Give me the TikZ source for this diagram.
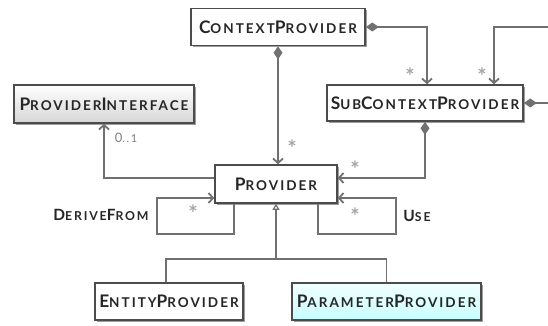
\documentclass[tikz,border=0pt]{standalone}
\usepackage{fontspec}
\newfontfamily\umlfont{Lato}[LetterSpace=15]
\newfontfamily\plainfont{Lato}
\usetikzlibrary{arrows.meta,shadows}
\definecolor{edgegray}{HTML}{707070}
\definecolor{rimgray}{HTML}{4C4C4C}
\definecolor{stargray}{HTML}{A5A5A5}
% name in pseudo small caps: initial capital, smaller capitals after it
\newcommand\ucw[2]{{\fontsize{17.3}{17}\selectfont #1}{\fontsize{13.5}{14}\selectfont #2}}
\newcommand\lcw[2]{{\fontsize{15.5}{16}\selectfont #1}{\fontsize{12.3}{13}\selectfont #2}}
\begin{document}
\begin{tikzpicture}[x=1pt,y=-1pt,
  cls/.style={draw=rimgray,line width=1.6pt,fill=white,inner sep=0pt,
    font=\umlfont\bfseries,text=black!85,
    drop shadow={shadow xshift=1.8pt,shadow yshift=-1.8pt,fill=black!55,opacity=0.7}},
  conn/.style={draw=edgegray,line width=1.8pt},
  barb/.style={-{Straight Barb[length=4.5pt,width=10pt,line width=1.8pt]}},
  compo/.style={{Diamond[length=13pt,width=9pt]}-{Straight Barb[length=4.5pt,width=10pt,line width=1.8pt]}},
  diastart/.style={{Diamond[length=13pt,width=9pt]}-},
  genarrow/.style={-{Triangle[open,length=6pt,width=7pt,fill=white,line width=1.2pt]}},
  mult/.style={text=stargray,font=\fontsize{22}{22}\selectfont\plainfont\bfseries,inner sep=0pt},
  rolelbl/.style={font=\umlfont\bfseries,text=black!85,inner sep=0pt}]
\useasboundingbox (0,0) rectangle (548,326);

% classes
\node[cls,minimum width=174pt,minimum height=37pt] (cp) at (278,27) {\ucw{C}{ONTEXT}\ucw{P}{ROVIDER}};
\node[cls,minimum width=196pt,minimum height=36pt] (scp) at (425,103) {\ucw{S}{UB}\ucw{C}{ONTEXT}\ucw{P}{ROVIDER}};
\node[cls,minimum width=180pt,minimum height=38pt,top color=white,bottom color=black!16] (pi) at (104,104) {\ucw{P}{ROVIDER}\ucw{I}{NTERFACE}};
\node[cls,minimum width=122pt,minimum height=38pt] (pr) at (276,184) {\ucw{P}{ROVIDER}};
\node[cls,minimum width=148pt,minimum height=37pt] (ep) at (169,301.5) {\ucw{E}{NTITY}\ucw{P}{ROVIDER}};
\node[cls,minimum width=189pt,minimum height=37pt,top color=cyan!5,bottom color=cyan!22] (pp) at (386.5,301.5) {\ucw{P}{ARAMETER}\ucw{P}{ROVIDER}};

% free ends leaving the picture on the right
\coordinate (outA) at (552,27);
\coordinate (outB) at (552,103);

% compositions
\draw[conn,compo] (cp.south) -- (cp.south |- pr.north);
\draw[conn,compo] (cp.east) -| ([xshift=2pt]scp.north);
\draw[conn,barb] (outA) -| ([xshift=69pt]scp.north);
\draw[conn,diastart] (scp.east) -- (outB);
\draw[conn,compo] (scp.south) |- ([yshift=6pt]pr.east);

% association to the interface
\draw[conn,barb] ([yshift=6pt]pr.west) -| (pi.south);
\node[inner sep=0pt,font=\umlfont,text=black!50] (zo) at (126,138) {{\fontsize{13}{13}\selectfont 0}{\fontsize{11}{11}\selectfont ..1}};

% self associations
\coordinate (dfA) at (157,234);
\coordinate (dfB) at (157,198);
\draw[conn,barb] ([xshift=-42pt]pr.south) |- (dfA) -- (dfB) -- ([yshift=-14pt]pr.west);
\coordinate (usA) at (396,234);
\coordinate (usB) at (396,198);
\draw[conn,barb] ([xshift=42pt]pr.south) |- (usA) -- (usB) -- ([yshift=-14pt]pr.east);
\node[rolelbl] (df) at (101,215) {\lcw{D}{ERIVE}\lcw{F}{ROM}};
\node[rolelbl] (us) at (417,216) {\lcw{U}{SE}};

% generalization
\coordinate (gj) at (276,259);
\draw[conn] ([xshift=-3pt]ep.north) |- (gj) -| (pp.north);
\draw[conn,genarrow] (gj) -- (pr.south);

% multiplicities
\node[mult] (m1) at (292,148) {*};
\node[mult] (m2) at (410,76) {*};
\node[mult] (m3) at (482,76) {*};
\node[mult] (m4) at (355,169) {*};
\node[mult] (m5) at (193,213) {*};
\node[mult] (m6) at (355,216) {*};
\end{tikzpicture}
\end{document}
